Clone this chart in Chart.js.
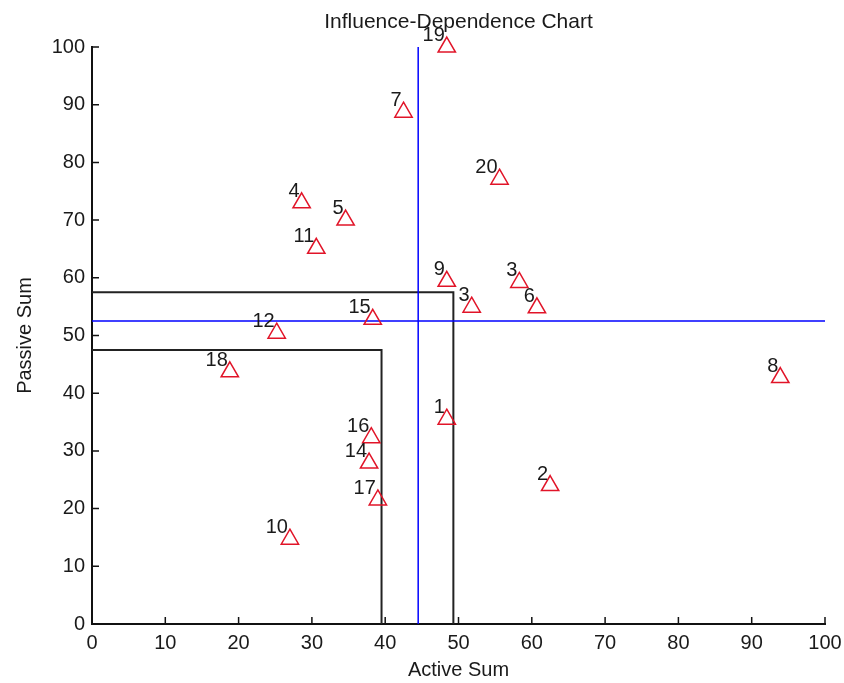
<!DOCTYPE html>
<html>
<head>
<meta charset="utf-8">
<script src="https://cdn.jsdelivr.net/npm/chart.js@4.4.0/dist/chart.umd.min.js"></script>
<style>
    html, body { margin: 0; padding: 0; background: #fff; }
    #wrap { width: 844px; height: 683px; }
</style>
</head>
<body>
<div id="wrap"><canvas id="chart" width="844" height="683"></canvas></div>
<script>
// factor labels and their sums
const factorLabels = ['1', '2', '3', '3', '4', '5', '6', '7', '8', '9', '10', '11', '12', '14', '15', '16', '17', '18', '19', '20'];
const activeSum = [48.4, 62.5, 51.8, 58.3, 28.6, 34.6, 60.7, 42.5, 93.9, 48.4, 27.0, 30.6, 25.2, 37.8, 38.3, 38.1, 39.0, 18.8, 48.4, 55.6];
const passiveSum = [35.5, 24.0, 54.9, 59.2, 73.0, 70.0, 54.8, 88.7, 42.7, 59.4, 14.7, 65.1, 50.4, 27.9, 52.8, 32.3, 21.5, 43.7, 100, 77.1];

const xTicks = [0, 10, 20, 30, 40, 50, 60, 70, 80, 90, 100];
const yTicks = [0, 10, 20, 30, 40, 50, 60, 70, 80, 90, 100];

// quadrant lines (means) and the two boxes around the origin
const activeMean = 44.5;
const passiveMean = 52.5;
const innerBox = [39.5, 47.5];
const outerBox = [49.3, 57.5];

const FONT = 'Liberation Sans, Arial, sans-serif';

const points = activeSum.map((v, i) => ({x: v, y: passiveSum[i]}));

function lineSet(data, color, width) {
    return {
        type: 'line',
        data: data,
        borderColor: color,
        borderWidth: width,
        pointRadius: 0,
        fill: false,
        tension: 0,
        clip: false
    };
}

const inwardTicks = {
    id: 'inwardTicks',
    afterDraw(chart) {
        const {ctx, scales: {x, y}} = chart;
        ctx.save();
        ctx.strokeStyle = '#111';
        ctx.lineWidth = 1.5;
        ctx.beginPath();
        xTicks.forEach(v => {
            const px = x.getPixelForValue(v);
            ctx.moveTo(px, y.bottom);
            ctx.lineTo(px, y.bottom - 7);
        });
        yTicks.forEach(v => {
            const py = y.getPixelForValue(v);
            ctx.moveTo(x.left, py);
            ctx.lineTo(x.left + 7, py);
        });
        ctx.stroke();
        ctx.restore();
    }
};

const factorText = {
    id: 'factorText',
    afterDatasetsDraw(chart) {
        const ctx = chart.ctx;
        const meta = chart.getDatasetMeta(0);
        ctx.save();
        ctx.font = '20px ' + FONT;
        ctx.fillStyle = '#1a1a1a';
        ctx.textAlign = 'right';
        ctx.textBaseline = 'alphabetic';
        meta.data.forEach((el, i) => {
            ctx.fillText(factorLabels[i], el.x - 2, el.y - 6);
        });
        ctx.restore();
    }
};

const ctx = document.getElementById('chart').getContext('2d');
new Chart(ctx, {
    type: 'scatter',
    data: {
        datasets: [
            {
                data: points,
                pointStyle: 'triangle',
                pointRadius: 10,
                pointHoverRadius: 10,
                pointBorderColor: 'rgb(225, 20, 40)',
                pointBackgroundColor: 'rgba(0,0,0,0)',
                pointBorderWidth: 1.5,
                showLine: false,
                clip: false
            },
            lineSet([{x: activeMean, y: 0}, {x: activeMean, y: 100}], '#0000ff', 1.5),
            lineSet([{x: 0, y: passiveMean}, {x: 100, y: passiveMean}], '#0000ff', 1.5),
            lineSet([{x: 0, y: outerBox[1]}, {x: outerBox[0], y: outerBox[1]}, {x: outerBox[0], y: 0}], '#222', 2),
            lineSet([{x: 0, y: innerBox[1]}, {x: innerBox[0], y: innerBox[1]}, {x: innerBox[0], y: 0}], '#222', 2)
        ]
    },
    options: {
        responsive: false,
        animation: false,
        devicePixelRatio: 1,
        layout: { padding: { left: 0, right: 19, top: 0, bottom: 0 } },
        plugins: {
            legend: { display: false },
            tooltip: { enabled: false },
            title: {
                display: true,
                fullSize: false,
                text: 'Influence-Dependence Chart',
                color: '#1a1a1a',
                font: { family: FONT, size: 21, weight: 'normal' },
                padding: { top: 10, bottom: 11.8 }
            }
        },
        scales: {
            x: {
                type: 'linear',
                min: 0,
                max: 100,
                afterFit: function(scale) {
                    scale.height = 59;
                    scale.paddingRight = 0;
                    scale.paddingLeft = 0;
                },
                grid: { display: false, drawTicks: false },
                border: { display: true, color: '#111', width: 2 },
                ticks: {
                    stepSize: 10,
                    autoSkip: false,
                    padding: 7,
                    color: '#1a1a1a',
                    font: { family: FONT, size: 20 }
                },
                title: {
                    display: true,
                    text: 'Active Sum',
                    color: '#1a1a1a',
                    font: { family: FONT, size: 20 },
                    padding: { top: 0, bottom: 1 }
                }
            },
            y: {
                type: 'linear',
                min: 0,
                max: 100,
                afterFit: function(scale) { scale.width = 92; },
                grid: { display: false, drawTicks: false },
                border: { display: true, color: '#111', width: 2 },
                ticks: {
                    stepSize: 10,
                    autoSkip: false,
                    padding: 7,
                    color: '#1a1a1a',
                    font: { family: FONT, size: 20 }
                },
                title: {
                    display: true,
                    text: 'Passive Sum',
                    color: '#1a1a1a',
                    font: { family: FONT, size: 20 },
                    padding: { top: 13, bottom: 0 }
                }
            }
        }
    },
    plugins: [inwardTicks, factorText]
});
</script>
</body>
</html>
